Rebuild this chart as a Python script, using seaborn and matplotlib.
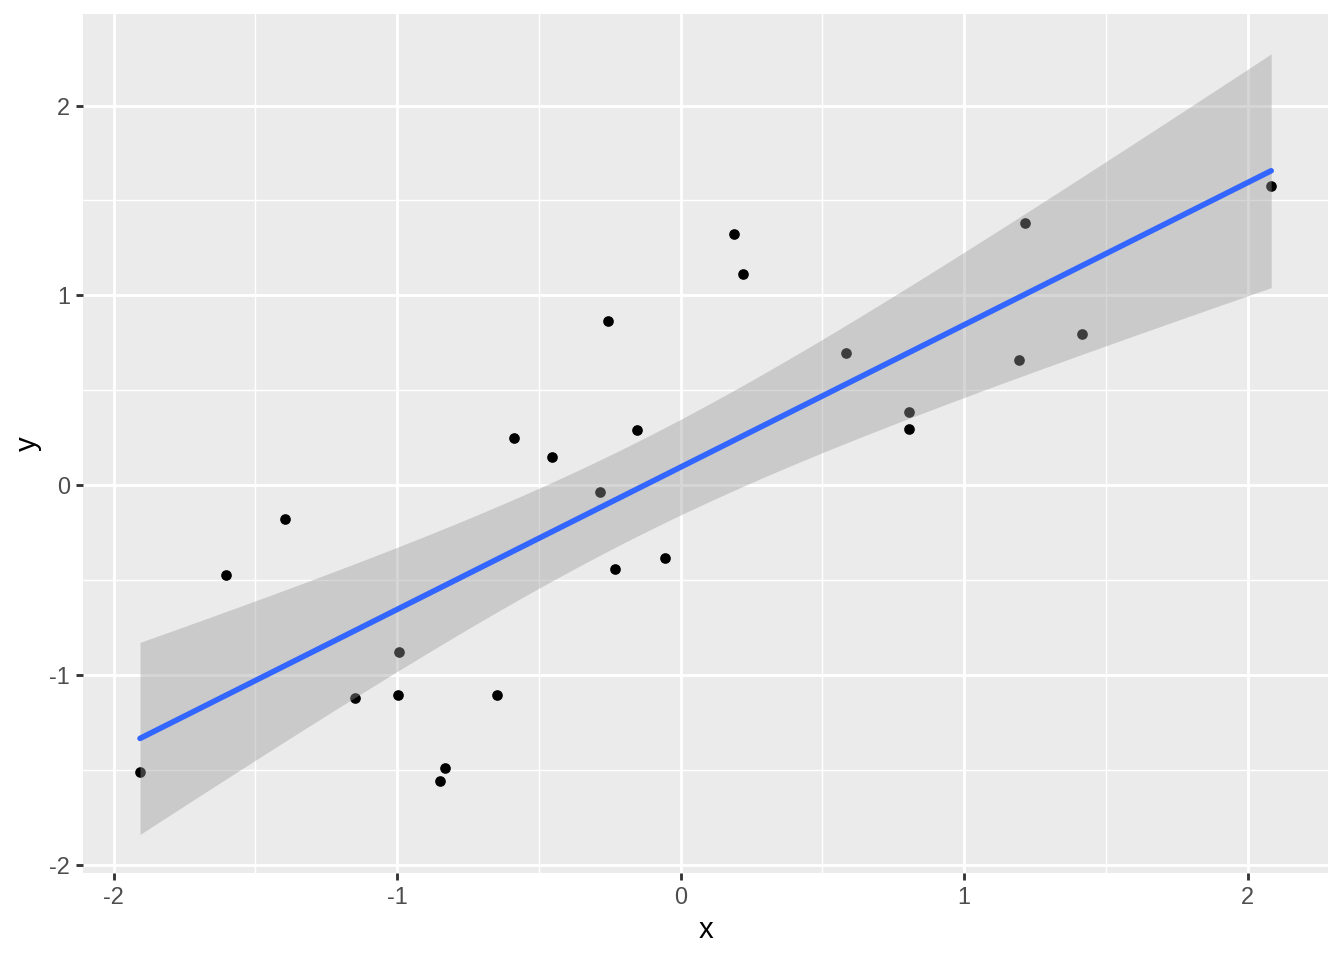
import numpy as np
import pandas as pd
import matplotlib
matplotlib.use("Agg")
import matplotlib.pyplot as plt
import seaborn as sns
from matplotlib.ticker import MultipleLocator

# points
x_vals = [-1.907, -1.604, -1.396, -1.149, -0.994, -0.997, -0.849, -0.832, -0.648,
          -0.589, -0.455, -0.285, -0.257, -0.233, -0.155, -0.056, 0.187, 0.219,
          0.585, 0.804, 0.807, 1.195, 1.216, 1.417, 2.083]
y_vals = [-1.510, -0.474, -0.179, -1.121, -0.879, -1.105, -1.558, -1.489, -1.105,
          0.247, 0.147, -0.037, 0.863, -0.442, 0.289, -0.384, 1.321, 1.111,
          0.695, 0.384, 0.295, 0.658, 1.379, 0.795, 1.574]
x_ticks = [-2, -1, 0, 1, 2]
y_ticks = [-2, -1, 0, 1, 2]

df = pd.DataFrame({"x": x_vals, "y": y_vals})

sns.set_theme(style="darkgrid", rc={
    "axes.facecolor": "#EBEBEB",
    "grid.color": "white",
})
plt.rcParams["font.family"] = ["Liberation Sans", "DejaVu Sans"]

fig, ax = plt.subplots(figsize=(7, 5), dpi=192)
fig.subplots_adjust(left=0.062, right=0.988, top=0.985, bottom=0.091)

# points first so the confidence band sits on top of them (like ggplot)
sns.scatterplot(data=df, x="x", y="y", color="black", s=16, linewidth=0, ax=ax)

# analytic 95% confidence band of the linear fit
n = len(df)
slope, intercept = np.polyfit(df["x"], df["y"], 1)
grid = np.linspace(df["x"].min(), df["x"].max(), 80)
resid = df["y"] - (slope * df["x"] + intercept)
s_err = np.sqrt((resid ** 2).sum() / (n - 2))
sxx = ((df["x"] - df["x"].mean()) ** 2).sum()
se = s_err * np.sqrt(1 / n + (grid - df["x"].mean()) ** 2 / sxx)
t_crit = 2.0687  # t(0.975, 23)
fit = slope * grid + intercept
ax.fill_between(grid, fit - t_crit * se, fit + t_crit * se,
                facecolor="#999999", alpha=0.4, linewidth=0, zorder=1.5)

sns.regplot(data=df, x="x", y="y", scatter=False, ci=None, ax=ax,
            line_kws={"color": "#3366FF", "linewidth": 2.1, "zorder": 3})

ax.set_xlim(-2.107, 2.283)
ax.set_ylim(-2.04, 2.48)
ax.set_xticks(x_ticks)
ax.set_yticks(y_ticks)
ax.set_xticklabels([str(t) for t in x_ticks])
ax.set_yticklabels([str(t) for t in y_ticks])
ax.xaxis.set_minor_locator(MultipleLocator(0.5))
ax.yaxis.set_minor_locator(MultipleLocator(0.5))
ax.grid(which="major", color="white", linewidth=1.07)
ax.grid(which="minor", color="white", linewidth=0.53)
ax.set_axisbelow(True)
for sp in ax.spines.values():
    sp.set_visible(False)

ax.tick_params(axis="both", which="major", length=2.75, width=1.07, color="#333333",
               labelsize=8.8, labelcolor="#4D4D4D", pad=2.2, bottom=True, left=True)
ax.tick_params(axis="both", which="minor", length=0)
ax.set_xlabel("x", fontsize=11, color="black", labelpad=2.75)
ax.set_ylabel("y", fontsize=11, color="black", labelpad=2.75)

fig.savefig("out.png", dpi=192)
